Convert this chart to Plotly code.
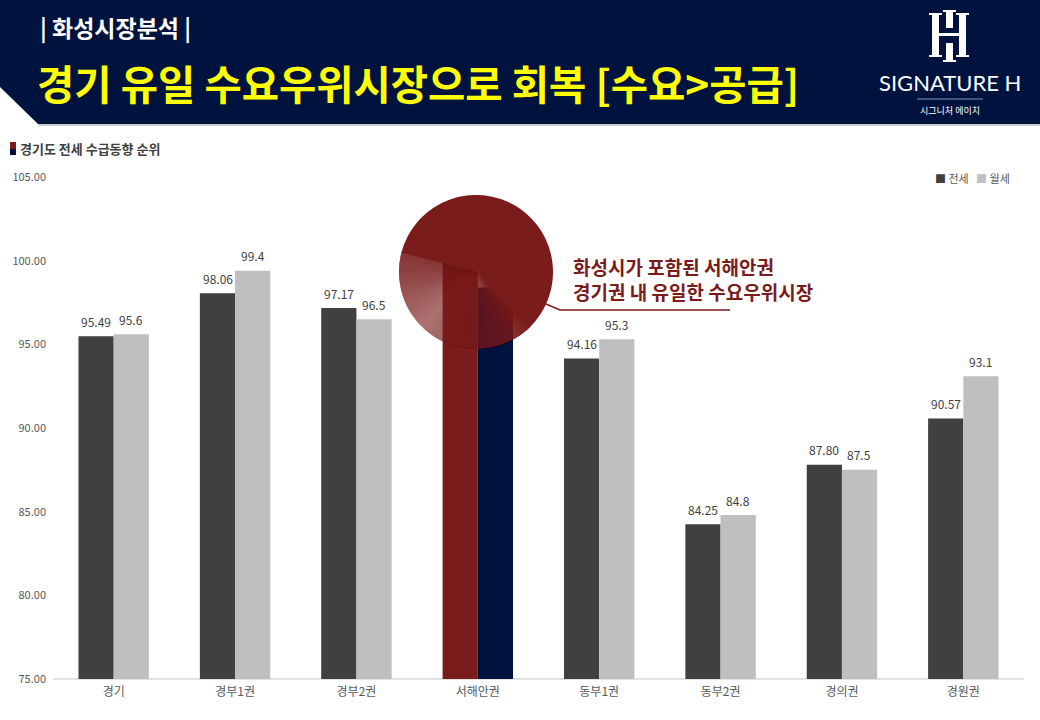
import math
import plotly.graph_objects as go

categories = ["경기", "경부1권", "경부2권", "서해안권", "동부1권", "동부2권", "경의권", "경원권"]
jeonse = [95.49, 98.06, 97.17, 100.05, 94.16, 84.25, 87.80, 90.57]
wolse = [95.6, 99.4, 96.5, 98.4, 95.3, 84.8, 87.5, 93.1]
jeonse_labels = ["95.49", "98.06", "97.17", "", "94.16", "84.25", "87.80", "90.57"]
wolse_labels = ["95.6", "99.4", "96.5", "", "95.3", "84.8", "87.5", "93.1"]
highlight = "서해안권"

FONT = "Noto Sans CJK KR"
DARK = "#404040"
LIGHT = "#BFBFBF"
RED = "#7B1C1C"
NAVY = "#00133F"

jc = [RED if c == highlight else DARK for c in categories]
wc = [NAVY if c == highlight else LIGHT for c in categories]

W, H = 1040, 720
L, R, T, B = 53, 1024, 177, 679


def px(x):
    return (x - L) / (R - L)


def py(y):
    return (B - y) / (B - T)


fig = go.Figure()
fig.add_trace(go.Bar(x=categories, y=jeonse, name="전세", offsetgroup="a",
                     marker=dict(color=jc, line=dict(width=0))))
fig.add_trace(go.Bar(x=categories, y=wolse, name="월세", offsetgroup="b",
                     marker=dict(color=wc, line=dict(width=0))))

annotations = []
for c, v, t in zip(categories, jeonse, jeonse_labels):
    if t:
        annotations.append(dict(x=c, y=v, xref="x", yref="y", text=t, showarrow=False, xshift=-17.5,
                                yshift=15, yanchor="middle", font=dict(size=12, color=DARK, family=FONT)))
for c, v, t in zip(categories, wolse, wolse_labels):
    if t:
        annotations.append(dict(x=c, y=v, xref="x", yref="y", text=t, showarrow=False, xshift=17.5,
                                yshift=15, yanchor="middle", font=dict(size=12, color=DARK, family=FONT)))

shapes = []
hdr = (f"M {px(0)},{py(0)} L {px(1040)},{py(0)} L {px(1040)},{py(124)} "
       f"L {px(38)},{py(124)} L {px(0)},{py(87)} Z")
shapes.append(dict(type="path", xref="paper", yref="paper", path=hdr, fillcolor=NAVY,
                   line=dict(width=0), layer="above"))
shapes.append(dict(type="line", xref="paper", yref="paper", x0=px(38), x1=px(1040), y0=py(125), y1=py(125),
                   line=dict(color="#C9CBD3", width=2), layer="above"))


def rect(x0, y0, x1, y1, color="white"):
    return dict(type="rect", xref="paper", yref="paper", x0=px(x0), x1=px(x1), y0=py(y1), y1=py(y0),
                fillcolor=color, line=dict(width=0), layer="above")


# logo H
shapes += [
    rect(932, 14, 939, 56), rect(959, 14, 966, 56),
    rect(929, 13, 942, 15), rect(929, 55, 942, 57),
    rect(956, 13, 969, 15), rect(956, 55, 969, 57),
    rect(946, 11, 953, 28), rect(946, 43, 953, 61),
    rect(943, 10, 956, 12), rect(943, 60, 956, 62),
    rect(939, 33, 959, 36),
]
shapes.append(dict(type="line", xref="paper", yref="paper", x0=px(917), x1=px(983), y0=py(99), y1=py(99),
                   line=dict(color="#8A93AC", width=1), layer="above"))
shapes.append(rect(10, 142, 16, 149, RED))
shapes.append(rect(10, 149, 16, 155, NAVY))

# circle highlight with sweep transparency (nested sectors avoid seams)
CX, CY, RAD = 476, 272, 77


def sector(a0, a1, step=1.5):
    pts = [(CX, CY)]
    n = max(2, int(abs(a1 - a0) / step) + 1)
    for i in range(n + 1):
        a = math.radians(a0 + (a1 - a0) * i / n)
        pts.append((CX + RAD * math.cos(a), CY - RAD * math.sin(a)))
    return "M " + " L ".join(f"{px(x):.5f},{py(y):.5f}" for x, y in pts) + " Z"


def add_sector(a0, a1, op):
    if op <= 0.001:
        return
    shapes.append(dict(type="path", xref="paper", yref="paper", path=sector(a0, a1), fillcolor=RED,
                       opacity=min(op, 1.0), line=dict(width=0), layer="above"))


tau_keys = [(165, 0.14), (225, 0.38), (265, 0.27), (300, 0.12), (315, 0.0)]


def tau(a):
    for (a0, v0), (a1, v1) in zip(tau_keys, tau_keys[1:]):
        if a0 <= a <= a1:
            return v0 + (v1 - v0) * (a - a0) / (a1 - a0)
    return 0.0


TB = 0.38
add_sector(165, 315, 1 - TB)
STEP = 3
# left side: sectors [165, 165+STEP*k]
nl = (225 - 165) // STEP
f = [tau(165 + STEP * (k - 0.5)) / TB for k in range(1, nl + 1)] + [1.0]
for k in range(nl):
    add_sector(165, 165 + STEP * (k + 1), 1 - f[k] / f[k + 1])
# right side: sectors [225+STEP*(m-1), 315]
nr = (315 - 225) // STEP
g_prev = 1.0
for m in range(1, nr + 1):
    g = max(tau(225 + STEP * (m - 0.5)), 0.01) / TB
    add_sector(225 + STEP * (m - 1), 315, 1 - g / g_prev)
    g_prev = g
# opaque remainder
add_sector(-45.4, 165.4, 1.0)

shapes.append(dict(type="path", xref="paper", yref="paper",
                   path=f"M {px(546)},{py(304)} L {px(560)},{py(310)} L {px(730)},{py(310)}",
                   line=dict(color=RED, width=1.5), layer="above"))
shapes.append(dict(type="line", xref="paper", yref="paper", x0=0, x1=1, y0=0, y1=0,
                   line=dict(color="#D9D9D9", width=1.5), layer="below"))

annotations += [
    dict(text="<b>| 화성시장분석 |</b>", x=px(38), y=py(27), xref="paper", yref="paper", xanchor="left",
         yanchor="middle", showarrow=False, font=dict(family=FONT, size=23, color="white")),
    dict(text="<b>경기 유일 수요우위시장으로 회복 [수요>공급]</b>", x=px(35), y=py(83), xref="paper", yref="paper",
         xanchor="left", yanchor="middle", showarrow=False, font=dict(family=FONT, size=40.5, color="#FFFF00")),
    dict(text="SIGNATURE H", x=px(950), y=py(83), xref="paper", yref="paper", xanchor="center",
         yanchor="middle", showarrow=False, font=dict(family="Lato", size=22, color="white")),
    dict(text="시그니처 에이치", x=px(950), y=py(111), xref="paper", yref="paper", xanchor="center",
         yanchor="middle", showarrow=False, font=dict(family=FONT, size=9, color="white")),
    dict(text="<b>경기도 전세 수급동향 순위</b>", x=px(18), y=py(148), xref="paper", yref="paper",
         xanchor="left", yanchor="middle", showarrow=False, font=dict(family=FONT, size=13, color=DARK)),
    dict(text=f"<span style='color:{DARK}'>■</span> 전세   <span style='color:{LIGHT}'>■</span> 월세",
         x=px(1012), y=py(178), xref="paper", yref="paper", xanchor="right", yanchor="middle",
         showarrow=False, font=dict(family=FONT, size=11, color="#595959")),
    dict(text="<b>화성시가 포함된 서해안권<br>경기권 내 유일한 수요우위시장</b>", x=px(571), y=py(279),
         xref="paper", yref="paper", xanchor="left", yanchor="middle", align="left", showarrow=False,
         font=dict(family=FONT, size=19, color=RED)),
]

fig.update_layout(
    width=W, height=H,
    margin=dict(l=L, r=W - R, t=T, b=H - B),
    paper_bgcolor="white", plot_bgcolor="white",
    barmode="group", bargap=0.42, bargroupgap=0,
    showlegend=False,
    font=dict(family=FONT, color="#595959"),
    shapes=shapes, annotations=annotations,
    xaxis=dict(showgrid=False, showline=False, ticks="", tickfont=dict(size=12, color="#595959"),
               ticklabelstandoff=4),
    yaxis=dict(range=[75, 105], dtick=5, tickformat=".2f", showgrid=False, zeroline=False, showline=False,
               ticks="", tickfont=dict(size=11, color="#595959"), ticklabelstandoff=6),
)

fig.write_html("out.html", config={"displayModeBar": False},
               post_script="document.body.style.margin='0px';")
